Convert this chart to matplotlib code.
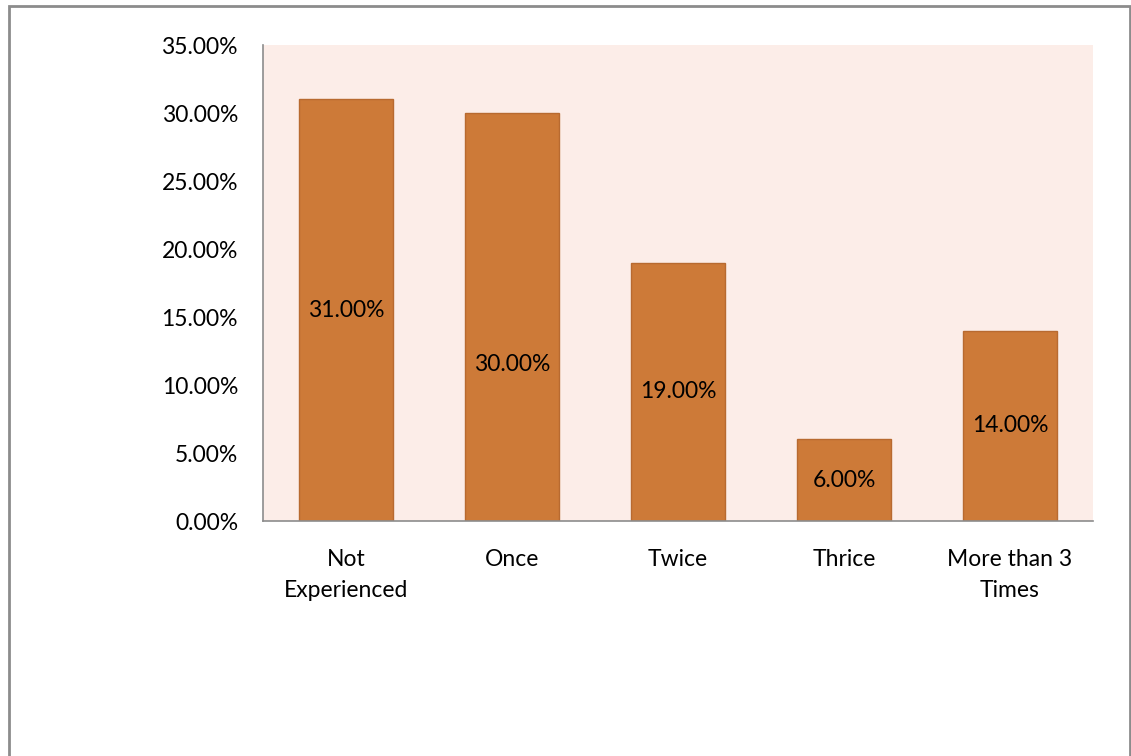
import matplotlib.pyplot as plt
from matplotlib.patches import Rectangle
from matplotlib.ticker import FuncFormatter

categories = ['Not\nExperienced', 'Once', 'Twice', 'Thrice', 'More than 3\nTimes']
values = [31.0, 30.0, 19.0, 6.0, 14.0]
yticks = [0, 5, 10, 15, 20, 25, 30, 35]

plt.rcParams['font.family'] = ['Lato', 'DejaVu Sans']

fig = plt.figure(figsize=(11.31, 7.56), dpi=100)
ax = fig.add_axes([263 / 1131, 1 - 521 / 756, 830 / 1131, 476 / 756])
ax.set_facecolor('#fcede8')

x = range(len(values))
ax.bar(x, values, width=0.57, color='#cd7a38', edgecolor='#b86a30', linewidth=1, zorder=2)

# value labels sit at bar mid-height; the "Once" label is nudged lower
for i, v in enumerate(values):
    y = v / 2 - (3.5 if i == 1 else 0)
    ax.text(i, y, f'{v:.2f}%', ha='center', va='center', fontsize=16.5, color='black', zorder=3)

ax.set_xlim(-0.5, len(values) - 0.5)
ax.set_ylim(0, 35)
ax.set_yticks(yticks)
ax.yaxis.set_major_formatter(FuncFormatter(lambda v, p: f'{v:.2f}%'))
ax.set_xticks(list(x))
ax.set_xticklabels(categories, linespacing=1.6)
ax.tick_params(axis='both', length=0, labelsize=16.5, colors='black')
ax.tick_params(axis='y', pad=18)
ax.tick_params(axis='x', pad=20)

for side in ['top', 'right']:
    ax.spines[side].set_visible(False)
for side in ['left', 'bottom']:
    ax.spines[side].set_color('#8c8c8c')
    ax.spines[side].set_linewidth(1.2)

# outer frame around the chart
fig.patches.append(Rectangle((9 / 1131, -0.1), 1121 / 1131, 1.1 - 6 / 756,
                             transform=fig.transFigure, fill=False,
                             edgecolor='#8c8c8c', linewidth=2))

fig.savefig('out.png', dpi=100)
